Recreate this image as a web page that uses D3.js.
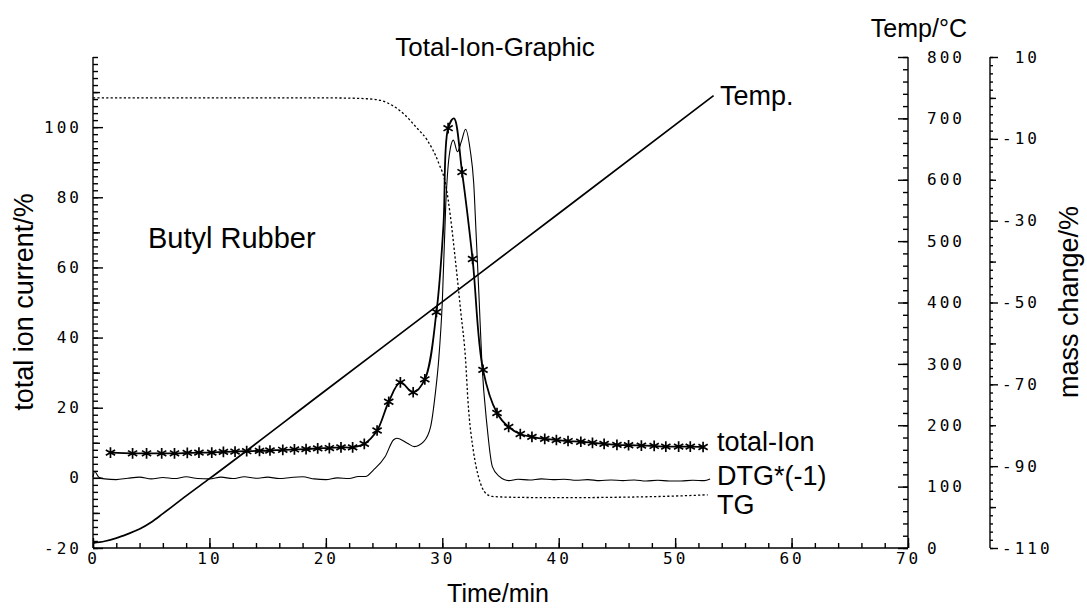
<!DOCTYPE html>
<html>
<head>
<meta charset="utf-8">
<script src="https://cdn.jsdelivr.net/npm/d3@7"></script>
<style>
  body { margin: 0; background: #fff; }
  .tick text { font-family: "DejaVu Sans Mono", monospace; font-size: 16px; letter-spacing: 3px; fill: #000; }
  .tick line, .domain { stroke: #000; stroke-width: 1.4px; }
  .lbl { font-family: "Liberation Sans", Arial, sans-serif; fill: #000; }
</style>
</head>
<body>
<svg id="chart" width="1087" height="611"></svg>
<script>
// tick values
var timeTicks = [0, 10, 20, 30, 40, 50, 60, 70];
var ionTicks = [-20, 0, 20, 40, 60, 80, 100];
var tempTicks = [0, 100, 200, 300, 400, 500, 600, 700, 800];
var massTicks = [10, -10, -30, -50, -70, -90, -110];

// total ion current (marker points), %
var ionTime = [1.5, 3.4, 4.6, 5.9, 7.0, 8.1, 9.1, 10.2, 11.2, 12.2, 13.2, 14.3, 15.2, 16.3, 17.3, 18.3, 19.3, 20.3, 21.3, 22.3,
  23.3, 24.4, 25.4, 26.4, 27.5, 28.5, 29.5, 30.5, 31.7, 32.6, 33.5, 34.7, 35.7, 36.7, 37.7, 38.8, 39.8, 40.8, 41.9, 42.9,
  43.9, 45.0, 46.0, 47.1, 48.2, 49.2, 50.3, 51.3, 52.4];
var ionValue = [7.2, 7.0, 7.0, 7.0, 7.0, 7.1, 7.2, 7.2, 7.4, 7.5, 7.6, 7.7, 7.8, 8.0, 8.1, 8.2, 8.4, 8.5, 8.7, 8.7,
  9.7, 13.5, 21.7, 27.2, 24.4, 28.1, 47.3, 99.7, 87.2, 62.4, 30.8, 18.5, 14.5, 12.5, 11.7, 11.1, 10.8, 10.5, 10.3, 10.0,
  9.7, 9.4, 9.3, 9.2, 9.1, 8.9, 8.9, 8.9, 8.8];
// extra points of the ion curve between markers
var ionPeakTime = [30.1, 31.0];
var ionPeakValue = [72, 102.5];

// DTG*(-1), plotted on the ion scale
var dtgTime = [0, 0.15, 0.5, 1, 2, 3, 4, 5, 6, 7, 8, 9, 10, 11, 12, 13, 14, 15, 16, 17, 18, 19, 20, 21, 22,
  22.8, 23.4, 24.1, 25.1, 25.8, 26.1, 27.0, 27.6, 28.4, 29.0, 29.4, 29.7, 30.0, 30.3, 30.6, 30.95, 31.3, 31.65, 32.0, 32.4,
  32.7, 32.9, 33.15, 33.4, 33.85, 34.3, 34.9, 35.7, 36.5, 37.5, 38.5, 39.5, 40.5, 41.5, 42.5, 43.5, 44.5, 45.5, 46.5,
  47.5, 48.5, 49.5, 50.5, 51.5, 52.5, 53.0];
var dtgValue = [0.3, 1.8, 0.2, -0.3, -0.5, -0.1, 0.2, -0.3, 0.1, -0.2, 0.3, -0.2, -0.3, 0.2, -0.2, 0.3, -0.1, 0.2, -0.2, 0.1,
  0.3, -0.3, -0.5, 0.0, -0.2, 0.4, 0.4, 2.3, 6.1, 10.8, 11.3, 9.9, 8.9, 10.3, 14.6, 24, 34, 50, 78, 92, 96.3, 93, 96, 99.4,
  93.4, 84, 70, 52, 33, 14.6, 3.2, 0.4, -0.8, -0.4, -0.6, -0.3, -0.5, -0.4, -0.7, -0.5, -0.8, -0.6, -0.8, -0.6, -0.9, -0.7,
  -0.9, -0.9, -0.7, -0.8, -0.3];

// TG, mass change %
var tgTime = [0, 10, 20, 22, 23.5, 24.7, 25.8, 26.8, 27.8, 28.7, 29.7, 30.3, 30.7, 31.1, 31.6, 32.0, 32.2, 32.7, 33.1,
  33.4, 33.8, 34.3, 36, 40, 45, 50, 52.8];
var tgMass = [0, 0, 0, -0.05, -0.2, -0.6, -2.0, -4.2, -7.3, -10.3, -16, -21.3, -29, -39, -52.6, -64, -73.8, -86.8, -92.5,
  -95.1, -96.8, -97.4, -97.6, -97.7, -97.6, -97.3, -97.0];

// furnace temperature, °C
var tempTime = [0, 1, 2, 3, 4, 5, 6, 8, 10, 20, 30, 40, 53.3];
var tempValue = [8, 11, 16, 23, 31, 42, 56, 85, 113, 257, 401, 545, 737];

var svg = d3.select('#chart');

var x = d3.scaleLinear().domain([0, 70]).range([93, 908]);
var yIon = d3.scaleLinear().domain([-20, 120]).range([548, 57]);
var yTemp = d3.scaleLinear().domain([0, 800]).range([548, 57]);
var yMass = d3.scaleLinear().domain([-110, 10]).range([548, 57]);

function fmt(d) { return d < 0 ? '-' + Math.abs(d) : String(d); }
function fmtPad(d) { return d < 0 ? '-' + Math.abs(d) : '\u00a0' + d; }

function addAxis(axis, tx, ty, hideDomain) {
  var g = svg.append('g').attr('transform', 'translate(' + tx + ',' + ty + ')').call(axis);
  if (hideDomain) g.select('.domain').remove();
  return g;
}

// left axis: total ion current
addAxis(d3.axisLeft(yIon).tickValues(d3.range(-20, 121, 2)).tickSize(-5).tickFormat(''), 93, 0, false)
  .select('.domain').attr('d', 'M0,' + yIon(120) + 'V' + yIon(-20));
addAxis(d3.axisLeft(yIon).tickValues(d3.range(-10, 121, 20)).tickSize(-7).tickFormat(''), 93, 0, true);
addAxis(d3.axisLeft(yIon).tickValues(ionTicks).tickSize(-10).tickPadding(11).tickFormat(fmt), 93, 0, true);

// bottom axis: time
addAxis(d3.axisBottom(x).tickValues(d3.range(0, 71, 2)).tickSize(-5).tickFormat(''), 0, 548, false)
  .select('.domain').attr('d', 'M' + x(0) + ',0H' + x(70));
addAxis(d3.axisBottom(x).tickValues(timeTicks).tickSize(-10).tickPadding(5).tickFormat(fmt), 0, 548, true);

// right axis: temperature
addAxis(d3.axisRight(yTemp).tickValues(d3.range(0, 801, 20)).tickSize(-5).tickFormat(''), 908, 0, false)
  .select('.domain').attr('d', 'M0,' + yTemp(800) + 'V' + yTemp(0));
addAxis(d3.axisRight(yTemp).tickValues(tempTicks).tickSize(-10).tickPadding(19).tickFormat(fmt), 908, 0, true);

// outer right axis: mass change
addAxis(d3.axisRight(yMass).tickValues(d3.range(-110, 11, 2)).tickSize(3).tickFormat(''), 990, 0, false)
  .select('.domain').attr('d', 'M0,' + yMass(10) + 'V' + yMass(-110));
addAxis(d3.axisRight(yMass).tickValues(d3.range(-100, 11, 20)).tickSize(6).tickFormat(''), 990, 0, true);
addAxis(d3.axisRight(yMass).tickValues(massTicks).tickSize(8).tickPadding(4).tickFormat(fmtPad), 990, 0, true);

svg.selectAll('.tick text').style('white-space', 'pre');

// curves
var ionPts = d3.zip(ionTime.concat(ionPeakTime), ionValue.concat(ionPeakValue))
  .sort(function (a, b) { return a[0] - b[0]; });

var lineIon = d3.line().x(function (d) { return x(d[0]); }).y(function (d) { return yIon(d[1]); })
  .curve(d3.curveCatmullRom.alpha(0.5));
var lineDtg = d3.line().x(function (d) { return x(d[0]); }).y(function (d) { return yIon(d[1]); })
  .curve(d3.curveMonotoneX);
var lineTg = d3.line().x(function (d) { return x(d[0]); }).y(function (d) { return yMass(d[1]); })
  .curve(d3.curveMonotoneX);
var lineTemp = d3.line().x(function (d) { return x(d[0]); }).y(function (d) { return yTemp(d[1]); })
  .curve(d3.curveMonotoneX);

svg.append('path').attr('d', lineTemp(d3.zip(tempTime, tempValue)))
  .attr('fill', 'none').attr('stroke', '#000').attr('stroke-width', 1.7);
svg.append('path').attr('d', lineTg(d3.zip(tgTime, tgMass)))
  .attr('fill', 'none').attr('stroke', '#000').attr('stroke-width', 1.3).attr('stroke-dasharray', '2.2,2.2');
svg.append('path').attr('d', lineDtg(d3.zip(dtgTime, dtgValue)))
  .attr('fill', 'none').attr('stroke', '#000').attr('stroke-width', 1.1);
svg.append('path').attr('d', lineIon(ionPts))
  .attr('fill', 'none').attr('stroke', '#000').attr('stroke-width', 1.8);

svg.append('g').selectAll('path')
  .data(d3.zip(ionTime, ionValue))
  .enter().append('path')
  .attr('transform', function (d) { return 'translate(' + x(d[0]) + ',' + yIon(d[1]) + ')'; })
  .attr('d', d3.symbol(d3.symbolAsterisk, 80))
  .attr('fill', 'none').attr('stroke', '#000').attr('stroke-width', 1.7);

// labels
function label(txt, px, py, size, anchor, rot) {
  var t = svg.append('text').attr('class', 'lbl').text(txt)
    .attr('font-size', size).attr('text-anchor', anchor || 'start');
  if (rot) t.attr('transform', 'translate(' + px + ',' + py + ') rotate(' + rot + ')');
  else t.attr('x', px).attr('y', py);
  return t;
}

label('Total-Ion-Graphic', 495, 56, 26, 'middle');
label('Temp/°C', 967, 37, 25, 'end');
label('Butyl Rubber', 148, 248, 29);
label('Temp.', 720, 105, 27);
label('total-Ion', 717, 451, 27);
label('DTG*(-1)', 717, 485, 27);
label('TG', 717, 514, 27);
label('Time/min', 498, 602, 25, 'middle');
label('total ion current/%', 33, 302, 27, 'middle', -90);
label('mass change/%', 1078, 302, 27, 'middle', -90);
</script>
</body>
</html>
